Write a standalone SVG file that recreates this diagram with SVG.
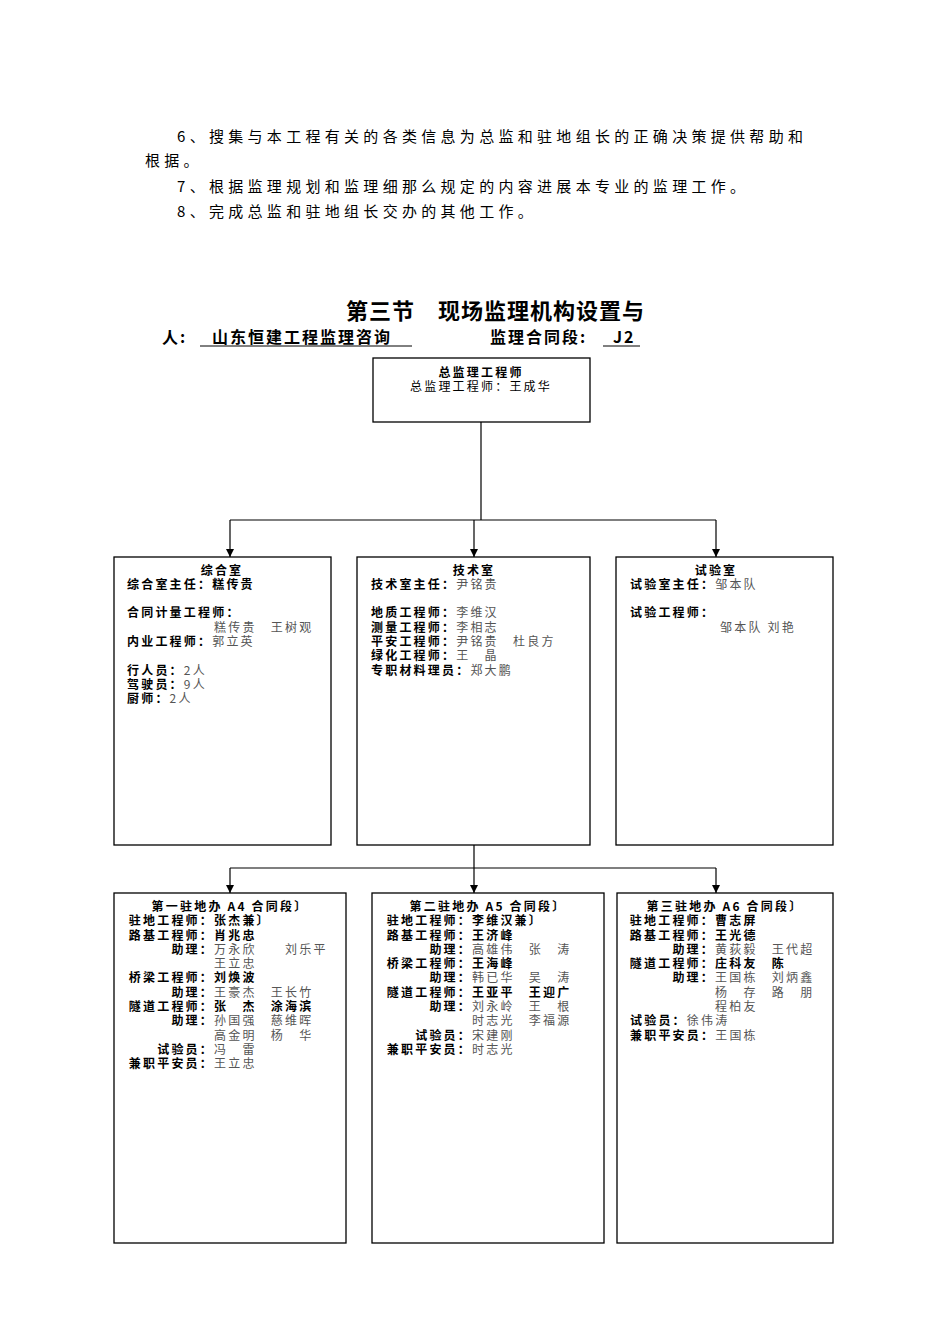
<svg xmlns="http://www.w3.org/2000/svg" width="950" height="1344" viewBox="0 0 950 1344">
<style>
text{font-family:"Noto Sans CJK SC","Noto Sans",sans-serif;fill:#000}
.p{font-size:15px;letter-spacing:4.3px}
.t{font-size:12px;letter-spacing:2.2px}
.b{font-weight:bold}
.g{fill:#555}
.e{text-anchor:end}
.m{text-anchor:middle}
.box{fill:#fff;stroke:#000;stroke-width:1.3}
.ln{fill:none;stroke:#000;stroke-width:1.2}
</style>
<defs><marker id="a" markerWidth="8" markerHeight="8" refX="4" refY="8" orient="0" markerUnits="userSpaceOnUse"><path d="M0,0 L8,0 L4,8 Z" fill="#000"/></marker></defs>
<rect width="950" height="1344" fill="#fff"/>
<text class="p" x="177" y="142">6、搜集与本工程有关的各类信息为总监和驻地组长的正确决策提供帮助和</text>
<text class="p" x="145" y="166">根据。</text>
<text class="p" x="177" y="192">7、根据监理规划和监理细那么规定的内容进展本专业的监理工作。</text>
<text class="p" x="177" y="217">8、完成总监和驻地组长交办的其他工作。</text>
<text x="346" y="319" font-size="22" letter-spacing="1" class="b">第三节　现场监理机构设置与</text>
<g font-size="16" letter-spacing="2">
<text x="162" y="343" class="b">人:</text>
<text x="212" y="343" class="b">山东恒建工程监理咨询</text>
<line x1="200" y1="346" x2="412" y2="346" stroke="#000"/>
<text x="490" y="343" class="b">监理合同段:</text>
<text x="613" y="343" class="b">J2</text>
<line x1="603" y1="346" x2="640" y2="346" stroke="#000"/>
</g>
<g id="connectors">
<path class="ln" d="M481,422 V520 M230,520 H716"/>
<path class="ln" d="M230,520 V557" marker-end="url(#a)"/>
<path class="ln" d="M474,520 V557" marker-end="url(#a)"/>
<path class="ln" d="M716,520 V557" marker-end="url(#a)"/>
<path class="ln" d="M474,845 V868 M230,868 H716"/>
<path class="ln" d="M230,868 V893" marker-end="url(#a)"/>
<path class="ln" d="M474,868 V893" marker-end="url(#a)"/>
<path class="ln" d="M716,868 V893" marker-end="url(#a)"/>
</g>
<g id="n-top">
<rect class="box" x="373" y="358" width="217" height="64"/>
<text class="t b m" x="481" y="377">总监理工程师</text>
<text class="t m" x="481" y="391">总监理工程师：王成华</text>
</g>
<g id="n-zhs" class="t">
<rect class="box" x="114" y="557" width="217" height="288"/>
<text class="b m" x="222" y="575">综合室</text>
<text class="b" x="127" y="589">综合室主任：糕传贵</text>
<text class="b" x="127" y="617">合同计量工程师：</text>
<text class="g" x="214" y="632">糕传贵　王树观</text>
<text x="127" y="646"><tspan class="b">内业工程师：</tspan><tspan class="g">郭立英</tspan></text>
<text x="127" y="675"><tspan class="b">行人员：</tspan><tspan class="g">2人</tspan></text>
<text x="127" y="689"><tspan class="b">驾驶员：</tspan><tspan class="g">9人</tspan></text>
<text x="127" y="703"><tspan class="b">厨师：</tspan><tspan class="g">2人</tspan></text>
</g>
<g id="n-js" class="t">
<rect class="box" x="357" y="557" width="233" height="288"/>
<text class="b m" x="474" y="575">技术室</text>
<text x="371" y="589"><tspan class="b">技术室主任：</tspan><tspan class="g">尹铭贵</tspan></text>
<text x="371" y="617"><tspan class="b">地质工程师：</tspan><tspan class="g">李维汉</tspan></text>
<text x="371" y="632"><tspan class="b">测量工程师：</tspan><tspan class="g">李相志</tspan></text>
<text x="371" y="646"><tspan class="b">平安工程师：</tspan><tspan class="g">尹铭贵　杜良方</tspan></text>
<text x="371" y="660"><tspan class="b">绿化工程师：</tspan><tspan class="g">王　晶</tspan></text>
<text x="371" y="675"><tspan class="b">专职材料理员：</tspan><tspan class="g">郑大鹏</tspan></text>
</g>
<g id="n-sy" class="t">
<rect class="box" x="616" y="557" width="217" height="288"/>
<text class="b m" x="716" y="575">试验室</text>
<text x="630" y="589"><tspan class="b">试验室主任：</tspan><tspan class="g">邹本队</tspan></text>
<text class="b" x="630" y="617">试验工程师：</text>
<text class="g" x="720" y="632">邹本队 刘艳</text>
</g>
<g id="n-a4" class="t">
<rect class="box" x="114" y="893" width="232" height="350"/>
<text class="b m" x="230" y="911">第一驻地办 A4 合同段〕</text>
<text class="b e" x="214" y="925">驻地工程师：</text><text class="b" x="214" y="925">张杰兼〕</text>
<text class="b e" x="214" y="940">路基工程师：</text><text class="b" x="214" y="940">肖兆忠</text>
<text class="b e" x="214" y="954">助理：</text><text class="g" x="214" y="954">万永欣　　刘乐平</text>
<text class="g" x="214" y="968">王立忠</text>
<text class="b e" x="214" y="982">桥梁工程师：</text><text class="b" x="214" y="982">刘焕波</text>
<text class="b e" x="214" y="997">助理：</text><text class="g" x="214" y="997">王豪杰　王长竹</text>
<text class="b e" x="214" y="1011">隧道工程师：</text><text class="b" x="214" y="1011">张　杰　涂海滨</text>
<text class="b e" x="214" y="1025">助理：</text><text class="g" x="214" y="1025">孙国强　慈维晖</text>
<text class="g" x="214" y="1040">高金明　杨　华</text>
<text class="b e" x="214" y="1054">试验员：</text><text class="g" x="214" y="1054">冯　雷</text>
<text class="b e" x="214" y="1068">兼职平安员：</text><text class="g" x="214" y="1068">王立忠</text>
</g>
<g id="n-a5" class="t">
<rect class="box" x="372" y="893" width="232" height="350"/>
<text class="b m" x="488" y="911">第二驻地办 A5 合同段〕</text>
<text class="b e" x="472" y="925">驻地工程师：</text><text class="b" x="472" y="925">李维汉兼〕</text>
<text class="b e" x="472" y="940">路基工程师：</text><text class="b" x="472" y="940">王济峰</text>
<text class="b e" x="472" y="954">助理：</text><text class="g" x="472" y="954">高雄伟　张　涛</text>
<text class="b e" x="472" y="968">桥梁工程师：</text><text class="b" x="472" y="968">王海峰</text>
<text class="b e" x="472" y="982">助理：</text><text class="g" x="472" y="982">韩已华　吴　涛</text>
<text class="b e" x="472" y="997">隧道工程师：</text><text class="b" x="472" y="997">王亚平　王迎广</text>
<text class="b e" x="472" y="1011">助理：</text><text class="g" x="472" y="1011">刘永岭　王　根</text>
<text class="g" x="472" y="1025">时志光　李福源</text>
<text class="b e" x="472" y="1040">试验员：</text><text class="g" x="472" y="1040">宋建刚</text>
<text class="b e" x="472" y="1054">兼职平安员：</text><text class="g" x="472" y="1054">时志光</text>
</g>
<g id="n-a6" class="t">
<rect class="box" x="617" y="893" width="216" height="350"/>
<text class="b m" x="725" y="911">第三驻地办 A6 合同段〕</text>
<text class="b e" x="715" y="925">驻地工程师：</text><text class="b" x="715" y="925">曹志屏</text>
<text class="b e" x="715" y="940">路基工程师：</text><text class="b" x="715" y="940">王光德</text>
<text class="b e" x="715" y="954">助理：</text><text class="g" x="715" y="954">黄荻毅　王代超</text>
<text class="b e" x="715" y="968">隧道工程师：</text><text class="b" x="715" y="968">庄科友　陈</text>
<text class="b e" x="715" y="982">助理：</text><text class="g" x="715" y="982">王国栋　刘炳鑫</text>
<text class="g" x="715" y="997">杨　存　路　朋</text>
<text class="g" x="715" y="1011">程柏友</text>
<text x="630" y="1025"><tspan class="b">试验员：</tspan><tspan class="g">徐伟涛</tspan></text>
<text x="630" y="1040"><tspan class="b">兼职平安员：</tspan><tspan class="g">王国栋</tspan></text>
</g>
</svg>
